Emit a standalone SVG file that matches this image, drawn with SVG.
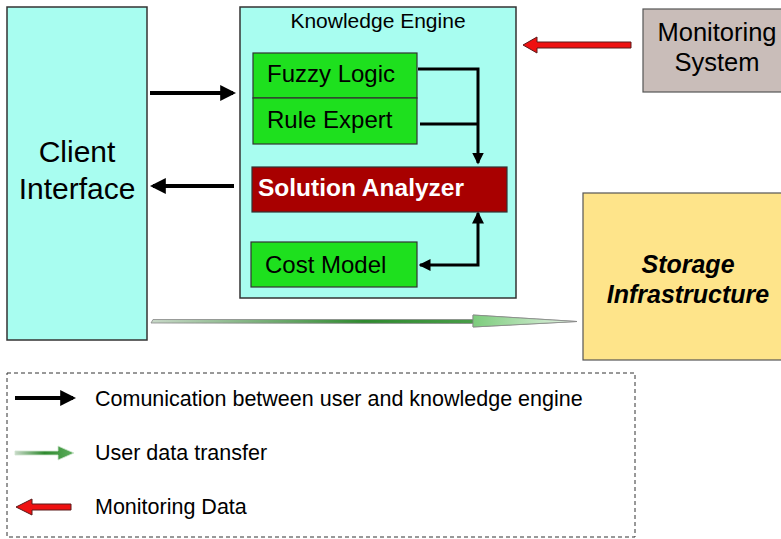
<svg xmlns="http://www.w3.org/2000/svg" width="781" height="539" viewBox="0 0 781 539">
<style>
text{font-family:"Liberation Sans",Arial,sans-serif;fill:#000}
.box{stroke:#333;stroke-width:1.5}
.cyan{fill:#a8fdf0}
.green{fill:#1ee01e;stroke:#333;stroke-width:1.2}
.blk{stroke:#000;stroke-width:4;fill:none}
.thin{stroke:#000;stroke-width:3;fill:none}
</style>
<defs>
<marker id="ah" markerWidth="4" markerHeight="4" refX="3.2" refY="2" orient="auto" markerUnits="strokeWidth">
<path d="M0,0 L4,2 L0,4 Z" fill="#000"/>
</marker>
<marker id="ah2" markerWidth="4" markerHeight="4" refX="3.5" refY="2" orient="auto-start-reverse" markerUnits="strokeWidth">
<path d="M0,0 L4,2 L0,4 Z" fill="#000"/>
</marker>
<linearGradient id="gshaft" x1="0" y1="0" x2="1" y2="0">
<stop offset="0" stop-color="#c8d8c8"/>
<stop offset="0.5" stop-color="#2f8a2f"/>
<stop offset="1" stop-color="#5fae5f"/>
</linearGradient>
<linearGradient id="ghead" x1="0" y1="0" x2="1" y2="0">
<stop offset="0" stop-color="#7ccc7c"/>
<stop offset="1" stop-color="#e8f4e8"/>
</linearGradient>
</defs>
<g id="client">
<rect class="box cyan" x="7" y="7" width="140" height="333"/>
<text x="77" y="162" font-size="30" text-anchor="middle">Client</text>
<text x="77" y="199" font-size="30" text-anchor="middle">Interface</text>
</g>
<g id="knowledge-engine">
<rect class="box cyan" x="240" y="7" width="276" height="291"/>
<text x="378" y="28" font-size="21" text-anchor="middle">Knowledge Engine</text>
</g>
<g id="fuzzy-logic">
<rect class="green" x="253" y="53" width="164" height="45"/>
<text x="267" y="82" font-size="24">Fuzzy Logic</text>
</g>
<g id="rule-expert">
<rect class="green" x="253" y="98" width="164" height="46"/>
<text x="267" y="128" font-size="24">Rule Expert</text>
</g>
<g id="solution-analyzer">
<rect x="252" y="167" width="255" height="45" fill="#a80000" stroke="#333" stroke-width="1.2"/>
<text x="258" y="196" font-size="24.5" font-weight="bold" style="fill:#fff">Solution Analyzer</text>
</g>
<g id="cost-model">
<rect class="green" x="251" y="242" width="166" height="45"/>
<text x="265" y="273" font-size="24">Cost Model</text>
</g>
<g id="monitoring">
<rect x="643" y="9" width="145" height="83" fill="#c9bdb9" stroke="#555" stroke-width="1.2"/>
<text x="717" y="41" font-size="25.5" text-anchor="middle">Monitoring</text>
<text x="717" y="71" font-size="25.5" text-anchor="middle">System</text>
</g>
<g id="storage">
<rect x="583" y="193" width="205" height="167" fill="#fee48a" stroke="#555" stroke-width="1.2"/>
<text x="688" y="273" font-size="25" font-weight="bold" font-style="italic" text-anchor="middle">Storage</text>
<text x="688" y="303" font-size="25" font-weight="bold" font-style="italic" text-anchor="middle">Infrastructure</text>
</g>
<g id="connectors">
<line class="blk" x1="150" y1="93" x2="233" y2="93" marker-end="url(#ah)"/>
<line class="blk" x1="234" y1="186" x2="153" y2="186" marker-end="url(#ah)"/>
<polyline class="thin" points="418,69 478,69 478,163" marker-end="url(#ah2)"/>
<line class="thin" x1="420" y1="124" x2="478" y2="124"/>
<polyline class="thin" points="478,213 478,265 420,265" marker-start="url(#ah2)" marker-end="url(#ah2)"/>
<path d="M631,42 L537,42 L537,37 L523,45 L537,53 L537,48 L631,48 Z" fill="#ee1111" stroke="#5a1a1a" stroke-width="1"/>
<path d="M151,323 L153,319.5 L473,319.5 L473,315 L577,321.5 L473,327 L473,323.5 Z" fill="url(#gshaft)" stroke="#888" stroke-width="0.8"/>
<path d="M473,315 L577,321.5 L473,327 Z" fill="url(#ghead)" stroke="#888" stroke-width="0.8"/>
</g>
<g id="legend">
<rect x="7" y="373" width="628" height="164" fill="none" stroke="#333" stroke-width="1" stroke-dasharray="4,3"/>
<line class="blk" x1="15" y1="398" x2="73" y2="398" marker-end="url(#ah)"/>
<text x="95" y="406" font-size="21.5">Comunication between user and knowledge engine</text>
<path d="M15,451 L58,451 L58,446 L74,453 L58,460 L58,455 L15,455 Z" fill="url(#gshaft)" stroke="#cfe6cf" stroke-width="0.8"/>
<text x="95" y="460" font-size="21.5">User data transfer</text>
<path d="M71,504 L32,504 L32,499 L16,507 L32,515 L32,510 L71,510 Z" fill="#ee1111" stroke="#5a1a1a" stroke-width="1"/>
<text x="95" y="514" font-size="21.5">Monitoring Data</text>
</g>
</svg>
